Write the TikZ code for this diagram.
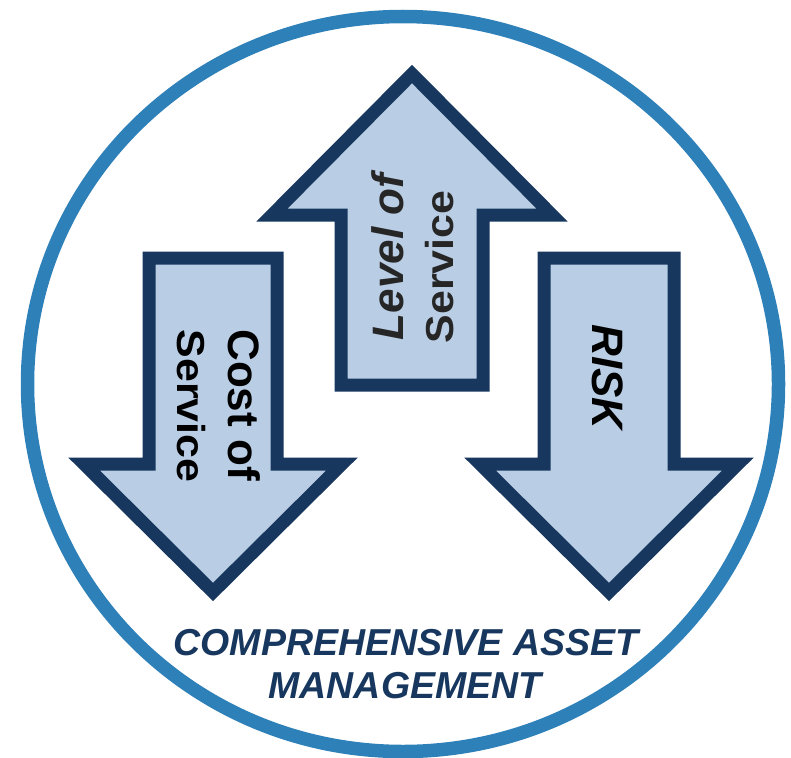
\documentclass[tikz,border=0pt]{standalone}
\usepackage{fontspec}
\setmainfont{Liberation Sans}
\definecolor{ringblue}{HTML}{2E80B9}
\definecolor{navy}{HTML}{17375E}
\definecolor{arrowfill}{HTML}{B9CDE5}
\definecolor{darkgrey}{HTML}{262626}
\tikzset{
  ring/.style={draw=ringblue, line width=13.5pt},
  bigarrow/.style={draw=navy, fill=arrowfill, line width=13pt, line join=miter},
  arrowtext/.style={inner sep=0pt, anchor=base, font=\bfseries\fontsize{44}{50}\selectfont},
  servtext/.style={inner sep=0pt, anchor=base, font=\bfseries\fontsize{39}{45}\selectfont},
  titletext/.style={inner sep=0pt, anchor=base, text=navy, font=\bfseries\itshape\fontsize{37.5}{43}\selectfont}
}
\begin{document}
\begin{tikzpicture}[x=1pt, y=-1pt]
\useasboundingbox (0,0) rectangle (791,757);
\fill[white] (0,0) rectangle (791,757);
% outer ring
\draw[ring] (403,384) ellipse [x radius=375.5, y radius=367.5];
% Level of Service (up)
\draw[bigarrow] (412,74) -- (552,215) -- (483,215) -- (483,385) -- (341,385) -- (341,215) -- (272,215) -- cycle;
% Cost of Service (down)
\draw[bigarrow] (149,258) -- (277,258) -- (277,464) -- (342,464) -- (213,592) -- (84,464) -- (149,464) -- cycle;
% RISK (down)
\draw[bigarrow] (544,258) -- (674,258) -- (674,464) -- (738,464) -- (609,592) -- (480,464) -- (544,464) -- cycle;
% texts
\node[arrowtext, rotate=90, text=darkgrey, font=\bfseries\itshape\fontsize{44}{50}\selectfont] (los1) at (403,257) {Level of};
\node[servtext, rotate=90, text=darkgrey] (los2) at (453,267) {\scalebox{1.1}[1]{Service}};
\node[arrowtext, rotate=-90, text=black] (cos1) at (228,405) {Cost of};
\node[servtext, rotate=-90, text=black] (cos2) at (177,406) {\scalebox{1.1}[1]{Service}};
\node[arrowtext, rotate=-90, text=black, font=\bfseries\itshape\fontsize{44}{50}\selectfont] (risk) at (592,377) {RISK};
\node[titletext] (title1) at (406,655) {COMPREHENSIVE ASSET};
\node[titletext] (title2) at (405,698) {MANAGEMENT};
\end{tikzpicture}
\end{document}
